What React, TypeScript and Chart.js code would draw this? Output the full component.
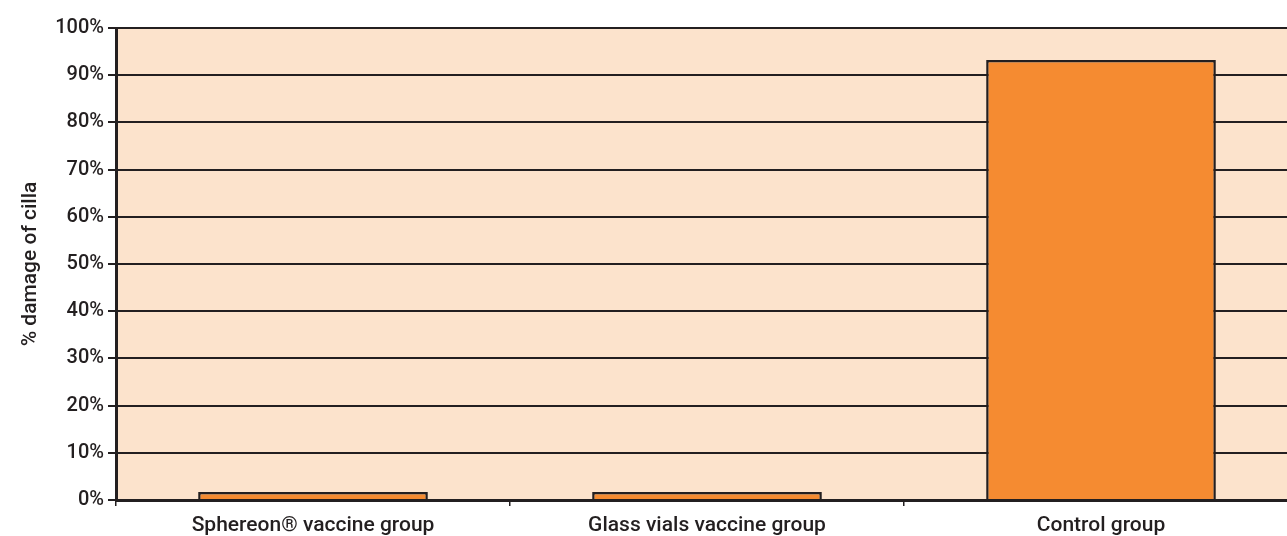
import React, { useEffect, useRef } from "react";
import { Chart, registerables } from "chart.js";

Chart.register(...registerables);

const categories = ["Sphereon® vaccine group", "Glass vials vaccine group", "Control group"];
const damageValues = [1.7, 1.7, 93.2];
const yTickValues = [0, 10, 20, 30, 40, 50, 60, 70, 80, 90, 100];
const yAxisTitle = "% damage of cilla";

const DARK = "#231f20";
const BAR = "#f58b31";
const PLOT_BG = "#fce3cc";
const FONT = "Roboto";

const bgPlugin = {
  id: "plotBg",
  beforeDraw(chart: any) {
    const { ctx, chartArea } = chart;
    if (!chartArea) return;
    ctx.save();
    ctx.fillStyle = PLOT_BG;
    ctx.fillRect(chartArea.left, chartArea.top, chartArea.right - chartArea.left, chartArea.bottom - chartArea.top);
    ctx.restore();
  },
};

export default function App() {
  const ref = useRef<HTMLCanvasElement>(null);
  useEffect(() => {
    document.body.style.margin = "0";
    const chart = new Chart(ref.current!, {
      type: "bar",
      data: {
        labels: categories,
        datasets: [
          {
            data: damageValues,
            backgroundColor: BAR,
            borderColor: DARK,
            borderWidth: 2.5,
            barPercentage: 0.583,
            categoryPercentage: 1,
          },
        ],
      },
      options: {
        animation: false,
        responsive: false,
        maintainAspectRatio: false,
        layout: { padding: { top: 28, left: 0, right: 0, bottom: 0 } },
        plugins: { legend: { display: false }, tooltip: { enabled: false } },
        scales: {
          x: {
            grid: {
              display: true,
              drawOnChartArea: false,
              drawTicks: true,
              tickLength: 6,
              color: DARK,
              lineWidth: 1.5,
            },
            border: { display: true, color: DARK, width: 3 },
            ticks: {
              color: DARK,
              font: { family: FONT, size: 21, weight: 500 },
              padding: 7,
            },
            afterFit(scale: any) {
              scale.height = 36;
            },
          },
          y: {
            min: 0,
            max: 100,
            afterBuildTicks(scale: any) {
              scale.ticks = yTickValues.map((v) => ({ value: v }));
            },
            grid: {
              color: DARK,
              lineWidth: 2,
              drawTicks: true,
              tickLength: 8,
            },
            border: { display: true, color: DARK, width: 3 },
            ticks: {
              color: DARK,
              font: { family: FONT, size: 20, weight: 500 },
              padding: 4,
              callback: (v: any) => v + "%",
            },
            title: {
              display: true,
              text: yAxisTitle,
              color: DARK,
              font: { family: FONT, size: 21, weight: 500 },
              padding: { top: 18, bottom: 0 },
            },
            afterFit(scale: any) {
              scale.width = 116;
            },
          },
        },
      },
      plugins: [bgPlugin],
    });
    return () => chart.destroy();
  }, []);
  return (
    <div style={{ width: 1287, height: 536, overflow: "hidden" }}>
      <canvas ref={ref} width={1298} height={536} style={{ display: "block" }} />
    </div>
  );
}
